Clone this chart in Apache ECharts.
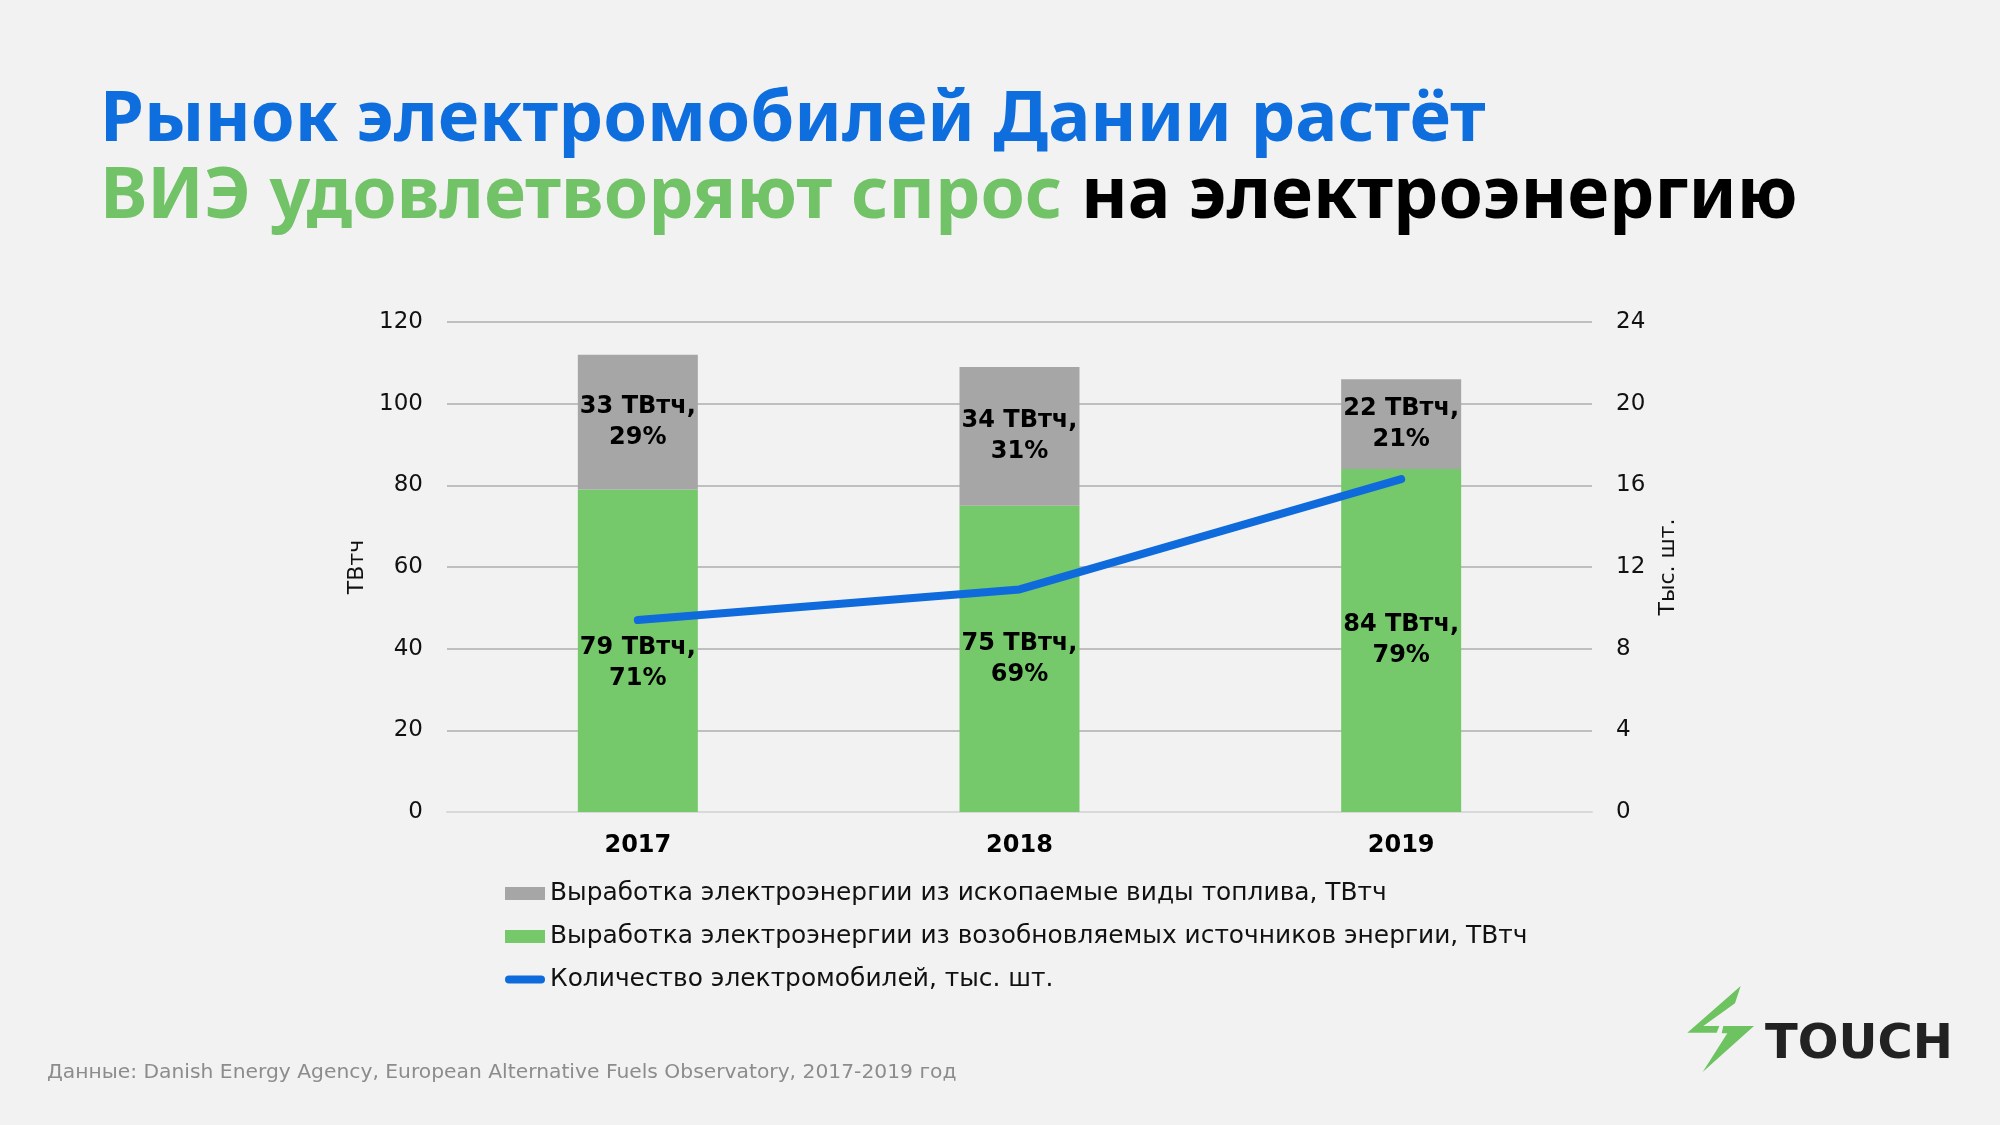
<!DOCTYPE html>
<html><head><meta charset="utf-8">
<script src="https://cdn.jsdelivr.net/npm/echarts@6/dist/echarts.min.js"></script>
<style>html,body{margin:0;padding:0;background:#f2f2f2}#c{width:2000px;height:1125px}</style>
</head><body><div id="c"></div>
<script>
// ---- data ----
const years = ['2017', '2018', '2019'];
const renewableTWh = [79, 75, 84];
const renewablePct = [71, 69, 79];
const fossilTWh = [33, 34, 22];
const fossilPct = [29, 31, 21];
const evThousands = [9.4, 10.9, 16.3];
const leftTicks = [0, 20, 40, 60, 80, 100, 120];
const rightTicks = [0, 4, 8, 12, 16, 20, 24];
const nameFossil = 'Выработка электроэнергии из ископаемые виды топлива, ТВтч';
const nameRenew = 'Выработка электроэнергии из возобновляемых источников энергии, ТВтч';
const nameEV = 'Количество электромобилей, тыс. шт.';
const title1 = 'Рынок электромобилей Дании растёт';
const title2a = 'ВИЭ удовлетворяют спрос';
const title2b = 'на электроэнергию';
const source = 'Данные: Danish Energy Agency, European Alternative Fuels Observatory, 2017-2019 год';

// ---- helpers ----
const FF = '"DejaVu Sans", sans-serif';
const FT = '"Noto Sans", sans-serif';
const mctx = document.createElement('canvas').getContext('2d');
function fit(text, weight, fam, target, lo, hi) {
  mctx.font = weight + ' 100px ' + fam;
  const s = 100 * target / mctx.measureText(text).width;
  return Math.max(lo, Math.min(hi, s));
}
const t1Size = fit(title1, 'bold', FT, 1386, 50, 76);
const t2Size = fit(title2a + ' ' + title2b, 'bold', FT, 1698, 50, 76);
const legSize = fit(nameRenew, 'normal', FF, 978, 18, 26);
const srcSize = fit(source, 'normal', FF, 910, 16, 22);
const logoSize = fit('TOUCH', 'bold', FF, 188, 36, 60);

const Z = (x, y) => [1670 + x / 3, 970 + y / 3];

const chart = echarts.init(document.getElementById('c'), null, {renderer: 'canvas'});
chart.setOption({
  backgroundColor: '#f2f2f2',
  textStyle: {fontFamily: FF},
  grid: {left: 447, right: 408, top: 322, bottom: 313, outerBoundsMode: 'none'},
  legend: {
    orient: 'vertical', left: 505, top: 881, padding: 0,
    itemWidth: 40, itemHeight: 13, itemGap: 18,
    textStyle: {fontSize: legSize, color: '#111', lineHeight: 24, fontFamily: FF},
    data: [
      {name: nameFossil, icon: 'rect'},
      {name: nameRenew, icon: 'rect'},
      {name: nameEV, icon: 'path://M4 0H36A4 4 0 0 1 36 8H4A4 4 0 0 1 4 0Z', itemStyle: {borderWidth: 0}}
    ]
  },
  xAxis: {
    type: 'category', data: years,
    axisTick: {show: false},
    axisLine: {lineStyle: {color: '#d9d9d9', width: 2}},
    axisLabel: {fontSize: 24, fontWeight: 'bold', color: '#000', margin: 22}
  },
  yAxis: [{
    type: 'value', min: leftTicks[0], max: leftTicks[leftTicks.length - 1], interval: leftTicks[1] - leftTicks[0],
    name: 'ТВтч', nameLocation: 'middle', nameGap: 68, nameRotate: 90,
    nameTextStyle: {fontSize: 22, color: '#111'},
    axisLine: {show: false}, axisTick: {show: false},
    axisLabel: {fontSize: 23, color: '#111', margin: 24},
    splitLine: {lineStyle: {color: '#bfbfbf', width: 2}}
  }, {
    type: 'value', position: 'right', min: rightTicks[0], max: rightTicks[rightTicks.length - 1], interval: rightTicks[1] - rightTicks[0],
    name: 'Тыс. шт.', nameLocation: 'middle', nameGap: 65, nameRotate: 90,
    nameTextStyle: {fontSize: 22, color: '#111'},
    axisLine: {show: false}, axisTick: {show: false},
    axisLabel: {fontSize: 23, color: '#111', margin: 24},
    splitLine: {show: false}
  }],
  series: [{
    name: nameRenew, type: 'bar', stack: 'e', barWidth: 120,
    itemStyle: {color: '#75c96a'},
    data: renewableTWh.map((v, i) => i === 0 ? {value: v, label: {offset: [0, 13]}} : v),
    label: {
      show: true, position: 'inside', fontSize: 24, fontWeight: 'bold', color: '#000', lineHeight: 31,
      formatter: p => renewableTWh[p.dataIndex] + ' ТВтч,\n' + renewablePct[p.dataIndex] + '%'
    },
    z: 2
  }, {
    name: nameFossil, type: 'bar', stack: 'e', barWidth: 120,
    itemStyle: {color: '#a6a6a6'},
    data: fossilTWh,
    label: {
      show: true, position: 'inside', fontSize: 24, fontWeight: 'bold', color: '#000', lineHeight: 31,
      formatter: p => fossilTWh[p.dataIndex] + ' ТВтч,\n' + fossilPct[p.dataIndex] + '%'
    },
    z: 2
  }, {
    name: nameEV, type: 'line', yAxisIndex: 1, data: evThousands,
    symbol: 'none', showSymbol: false, color: '#0f6bdc',
    lineStyle: {color: '#0f6bdc', width: 8, cap: 'round', join: 'round'},
    z: 5
  }],
  graphic: [
    {type: 'text', x: 100, y: 121, style: {
      text: title1, fill: '#0e6ede', font: 'bold ' + t1Size + 'px ' + FT, verticalAlign: 'middle'}},
    {type: 'text', x: 100, y: 198, style: {
      text: '{g|' + title2a + '} {k|' + title2b + '}', verticalAlign: 'middle',
      rich: {
        g: {fill: '#72c268', fontSize: t2Size, fontWeight: 'bold', fontFamily: FT},
        k: {fill: '#000', fontSize: t2Size, fontWeight: 'bold', fontFamily: FT}
      }, font: 'bold ' + t2Size + 'px ' + FT}},
    {type: 'text', x: 47, y: 1073, style: {
      text: source, fill: '#8c8c8c', font: srcSize + 'px ' + FF, verticalAlign: 'middle'}},
    {type: 'polygon', shape: {points: [Z(212, 48), Z(52, 188), Z(140, 188), Z(148, 168), Z(100, 168), Z(195, 100)]}, style: {fill: '#6cc35f'}},
    {type: 'polygon', shape: {points: [Z(160, 168), Z(252, 168), Z(98, 306), Z(172, 190), Z(155, 190)]}, style: {fill: '#6cc35f'}},
    {type: 'text', x: 1765, y: 1046, style: {
      text: 'TOUCH', fill: '#222', font: 'bold ' + logoSize + 'px ' + FF, verticalAlign: 'middle'}}
  ]
});
</script></body></html>
